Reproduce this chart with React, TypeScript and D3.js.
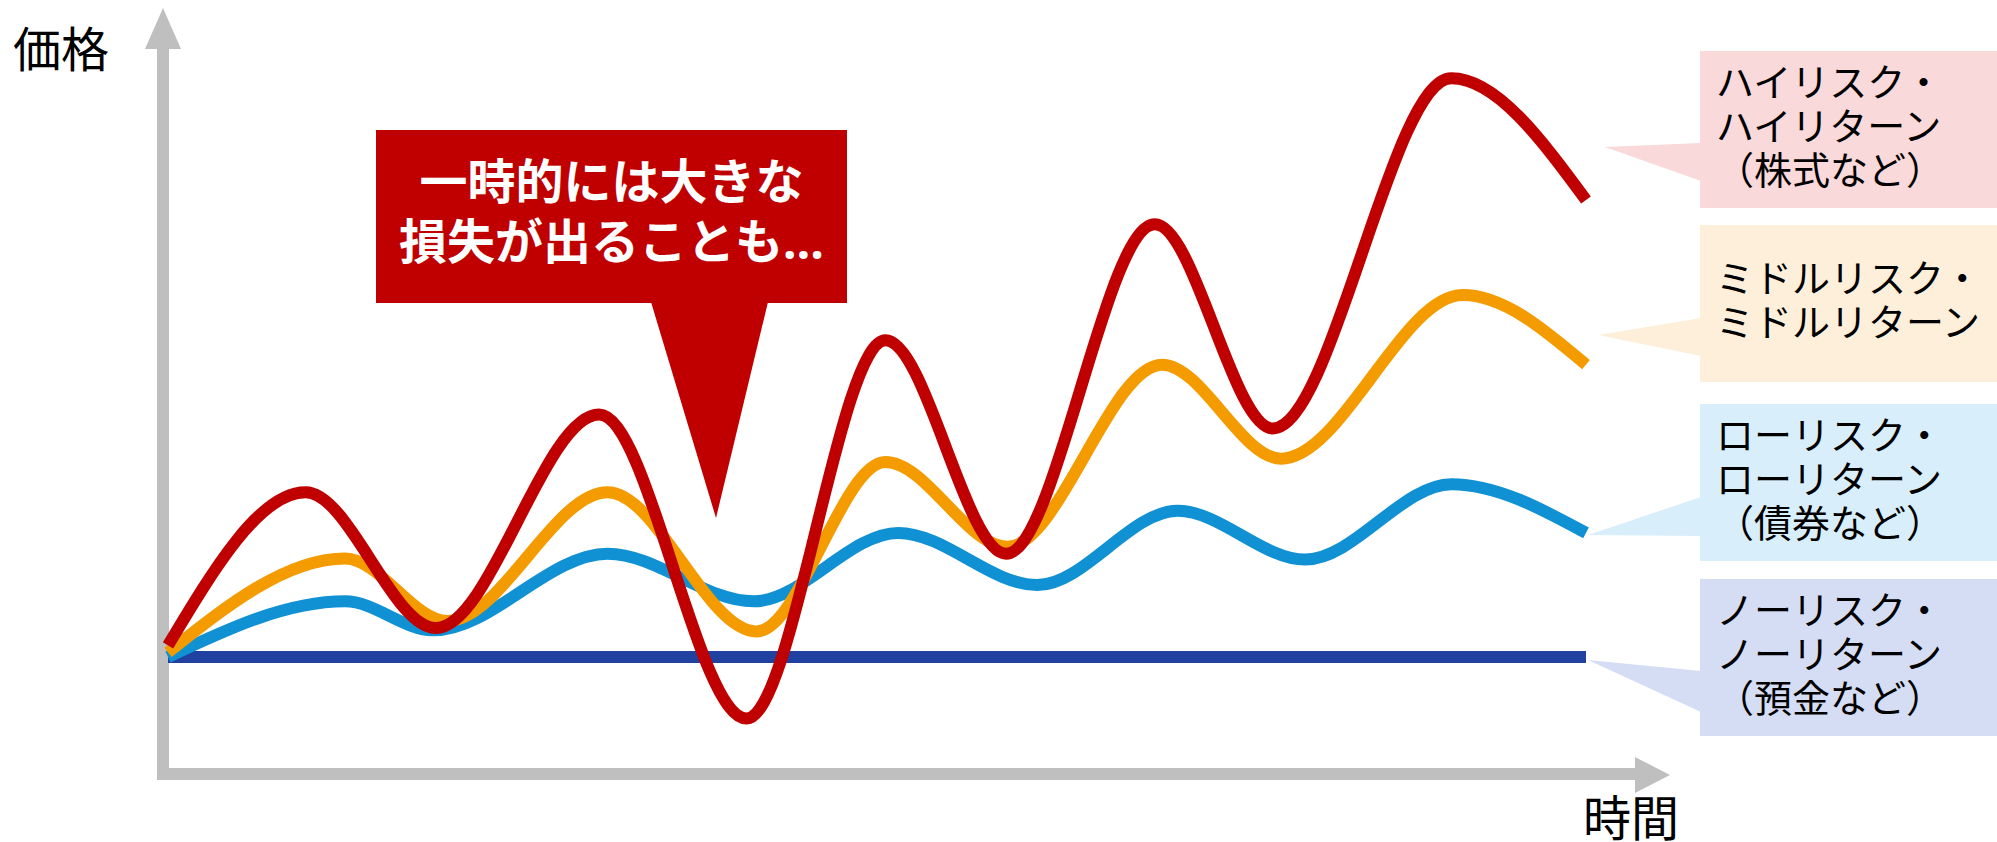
import React from "react";
import * as d3 from "d3";

// ---- data (time index 0-100, price index: no-risk baseline = 100) ----
const highT = [0, 9.7, 18.9, 30.4, 40.8, 50.6, 59.1, 69.6, 77.9, 90.5, 100];
const highV = [110, 242, 125, 309, 47, 373, 189, 473, 297, 599, 494];
const midT = [0, 12.5, 19.7, 31.0, 41.5, 50.6, 59.2, 70.1, 78.5, 91.3, 100];
const midV = [104, 185, 131, 242, 122, 268, 195, 352, 271, 412, 352];
const lowT = [0, 12.5, 18.7, 31.0, 41.3, 51.5, 61.3, 71.2, 80.2, 90.5, 100];
const lowV = [100, 148, 123, 189, 148, 207, 162, 226, 184, 249, 207];
const noneT = [0, 100];
const noneV = [100, 100];

const seriesNames = ["none", "low", "mid", "high"];
const seriesColors = ["#2141A0", "#0F91D3", "#F49B00", "#C00000"];

const labelLines = [
  ["ハイリスク・", "ハイリターン", "（株式など）"],
  ["ミドルリスク・", "ミドルリターン"],
  ["ローリスク・", "ローリターン", "（債券など）"],
  ["ノーリスク・", "ノーリターン", "（預金など）"],
];
const labelFills = ["#F9D9D9", "#FEEFDA", "#D8EEFA", "#D5DDF4"];
const calloutLines = ["一時的には大きな", "損失が出ることも…"];
const yAxisLabel = "価格";
const xAxisLabel = "時間";

const W = 1997;
const H = 842;
const FONT = "'Noto Sans CJK JP', 'Noto Sans', sans-serif";

export default function App() {
  const x = d3.scaleLinear().domain([0, 100]).range([168, 1586]);
  const y = d3.scaleLinear().domain([0, 100]).range([773, 657]);

  const mk = (ts: number[], vs: number[]) => ts.map((t, i) => ({ t, v: vs[i] }));
  const data = [mk(noneT, noneV), mk(lowT, lowV), mk(midT, midV), mk(highT, highV)];
  const line = d3
    .line<{ t: number; v: number }>()
    .x((d) => x(d.t))
    .y((d) => y(d.v))
    .curve(d3.curveMonotoneX);

  // label boxes layout
  const boxX = 1700;
  const boxW = 297;
  const boxH = 157;
  const boxTops = [51, 225, 404, 579];
  const pointers = [
    { tip: [1605, 147], b1: 143, b2: 181 },
    { tip: [1598, 335], b1: 318, b2: 356 },
    { tip: [1588, 535], b1: 497, b2: 536 },
    { tip: [1588, 660], b1: 671, b2: 712 },
  ];
  const lh = 44;

  const gray = "#BFBFBF";

  const renderCallout = (s: string) => {
    if (s.endsWith("…")) {
      return (
        <>
          {s.slice(0, -1)}
          <tspan fontFamily="'Noto Sans', 'DejaVu Sans', sans-serif">…</tspan>
        </>
      );
    }
    return s;
  };

  return (
    <svg
      width={W}
      height={H}
      style={{ position: "absolute", left: 0, top: 0, background: "#fff" }}
      fontFamily={FONT}
    >
      {/* axes */}
      <line x1={163} y1={45} x2={163} y2={780} stroke={gray} strokeWidth={12} />
      <polygon points="163,8 145,49 181,49" fill={gray} />
      <line x1={157} y1={774} x2={1638} y2={774} stroke={gray} strokeWidth={12} />
      <polygon points="1635,757 1670,775 1635,793" fill={gray} />
      <text x={13} y={67} fontSize={48} fill="#000">
        {yAxisLabel}
      </text>
      <text x={1583} y={836} fontSize={48} fill="#000">
        {xAxisLabel}
      </text>

      {/* series */}
      {data.map((d, i) => (
        <path
          key={seriesNames[i]}
          d={line(d) || ""}
          fill="none"
          stroke={seriesColors[i]}
          strokeWidth={12}
          strokeLinecap="butt"
          strokeLinejoin="round"
        />
      ))}

      {/* callout */}
      <rect x={376} y={130} width={471} height={173} fill="#C00000" />
      <polygon points="651,302 768,302 716,518" fill="#C00000" />
      {calloutLines.map((s, i) => (
        <text
          key={i}
          x={611.5}
          y={199 + i * 60}
          fontSize={48}
          fontWeight={700}
          fill="#fff"
          textAnchor="middle"
        >
          {renderCallout(s)}
        </text>
      ))}

      {/* label boxes */}
      {labelLines.map((lines, i) => {
        const top = boxTops[i];
        const p = pointers[i];
        const base = top + boxH / 2 - ((lines.length - 1) * lh) / 2 + 10.5;
        return (
          <g key={i}>
            <polygon
              points={`${p.tip[0]},${p.tip[1]} ${boxX + 1},${p.b1} ${boxX + 1},${p.b2}`}
              fill={labelFills[i]}
            />
            <rect x={boxX} y={top} width={boxW} height={boxH} fill={labelFills[i]} />
            {lines.map((s, j) => (
              <text key={j} x={1716} y={base + j * lh} fontSize={38} fill="#000">
                {s}
              </text>
            ))}
          </g>
        );
      })}
    </svg>
  );
}
